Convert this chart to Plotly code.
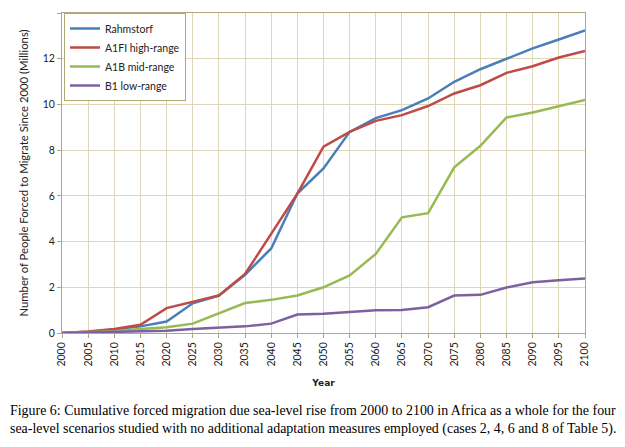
import plotly.graph_objects as go

years = list(range(2000, 2101, 5))
rahmstorf = [0, 0.05, 0.15, 0.29, 0.5, 1.3, 1.64, 2.55, 3.7, 6.1, 7.2, 8.8, 9.4, 9.75, 10.26, 10.99, 11.54, 11.98, 12.45, 12.84, 13.24]
a1fi = [0, 0.07, 0.18, 0.36, 1.09, 1.38, 1.64, 2.58, 4.37, 6.1, 8.15, 8.8, 9.28, 9.53, 9.93, 10.48, 10.84, 11.38, 11.67, 12.05, 12.34]
a1b = [0, 0.03, 0.08, 0.17, 0.25, 0.41, 0.87, 1.31, 1.45, 1.64, 2.0, 2.52, 3.46, 5.06, 5.24, 7.25, 8.19, 9.43, 9.65, 9.93, 10.19]
b1 = [0, 0.02, 0.05, 0.07, 0.1, 0.17, 0.23, 0.29, 0.41, 0.81, 0.84, 0.91, 1.0, 1.01, 1.13, 1.64, 1.67, 1.99, 2.22, 2.31, 2.38]

series = [
    ("Rahmstorf", rahmstorf, "#4a7ebb"),
    ("A1FI high-range", a1fi, "#be4b48"),
    ("A1B mid-range", a1b, "#98b954"),
    ("B1 low-range", b1, "#7d60a0"),
]

fig = go.Figure()
for name, vals, col in series:
    fig.add_trace(go.Scatter(x=years, y=vals, name=name, mode="lines",
                             line=dict(color=col, width=2.5)))

# page has an 8px body margin; work in figure coordinates
OFF = 8
W, H = 625 - OFF, 447 - OFF
px_l, px_r, px_t, px_b = 62 - OFF, 585 - OFF, 13 - OFF, 333 - OFF
L, R, T, B = px_l, W - px_r, px_t, H - px_b
pw, ph = px_r - px_l, px_b - px_t

fig.update_layout(
    width=W, height=H,
    margin=dict(l=L, r=R, t=T, b=B, autoexpand=False),
    paper_bgcolor="white", plot_bgcolor="white",
    font=dict(family="Lato", size=10, color="#222"),
    legend=dict(x=(64 - 62) / pw, y=1 - (13 - 13) / ph, xanchor="left", yanchor="top",
                bordercolor="#b0a878", borderwidth=1, bgcolor="white",
                font=dict(family="Lato", size=10.5), tracegroupgap=0, itemwidth=30),
    xaxis=dict(range=[2000, 2100], tickvals=years, tickangle=-90,
               showgrid=True, gridcolor="#ddd6b8", gridwidth=1,
               showline=True, linecolor="#b0a878", mirror=True,
               ticks="outside", ticklen=4, tickcolor="#b0a878",
               tickfont=dict(size=10.5),
               title=dict(text="<b>Year</b>", font=dict(family="DejaVu Sans", size=9), standoff=14),
               zeroline=False),
    yaxis=dict(range=[0, 14], dtick=2, showgrid=True, gridcolor="#ddd6b8",
               showline=True, linecolor="#b0a878", mirror=True,
               ticks="outside", ticklen=4, tickcolor="#b0a878",
               tickfont=dict(size=10.5),
               title=dict(text="Number of People Forced to Migrate Since 2000 (Millions)",
                          font=dict(size=11.3), standoff=11),
               zeroline=False),
)

caption = ("Figure 6: Cumulative forced migration due sea-level rise from 2000 to 2100 in Africa as a whole for the four<br>"
           "sea-level scenarios studied with no additional adaptation measures employed (cases 2, 4, 6 and 8 of Table 5).")
fig.add_annotation(text=caption, xref="paper", yref="paper",
                   x=(0 - L) / pw, y=-(401 - OFF - px_b) / ph,
                   xanchor="left", yanchor="top", align="left", showarrow=False,
                   font=dict(family="Liberation Serif", size=13.95, color="black"))

fig.write_html("out.html")
